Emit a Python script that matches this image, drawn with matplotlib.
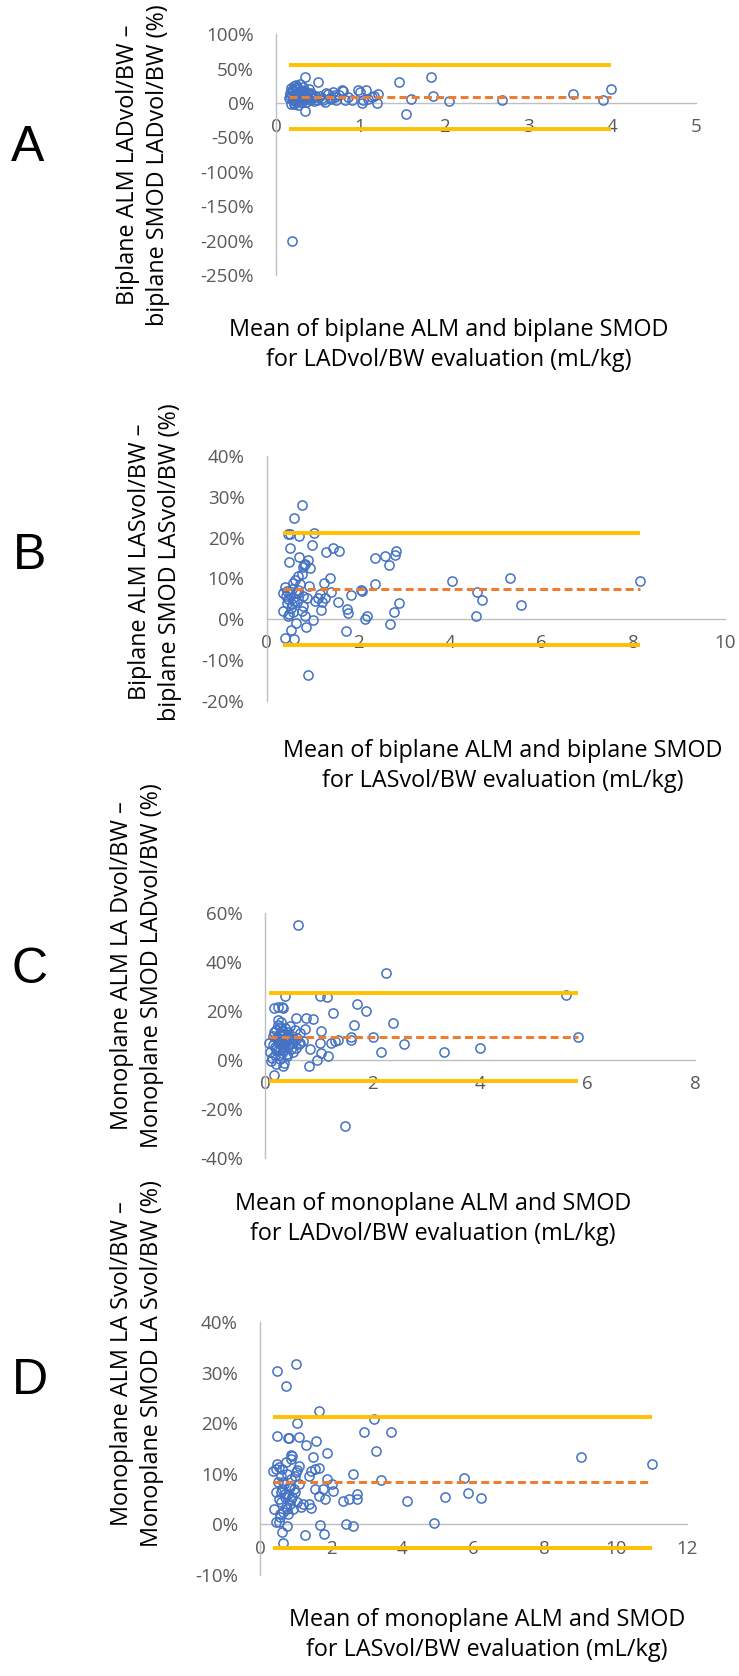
import matplotlib
matplotlib.use("Agg")
import matplotlib.pyplot as plt

plt.rcParams['font.family'] = ['Open Sans', 'DejaVu Sans']

W, H = 739, 1676

# ---------------- data ----------------
A_x = [0.19, 0.34, 0.34, 0.50, 1.46, 1.84, 1.87, 1.55, 1.61, 2.06,
       2.69, 3.53, 3.89, 3.99, 0.98, 1.07, 1.21, 1.02, 1.04, 1.20,
       1.14, 0.78, 0.80, 0.86, 0.82, 0.72, 0.68, 0.62, 0.56, 0.52,
       0.48, 0.64, 0.70, 0.90, 1.00, 1.10, 1.17, 0.16, 0.17, 0.18,
       0.18, 0.19, 0.20, 0.20, 0.21, 0.22, 0.22, 0.23, 0.24, 0.24,
       0.25, 0.26, 0.26, 0.27, 0.28, 0.28, 0.29, 0.30, 0.30, 0.31,
       0.32, 0.33, 0.34, 0.35, 0.36, 0.37, 0.38, 0.39, 0.40, 0.41,
       0.42, 0.44, 0.45, 0.47, 0.19, 0.21, 0.23, 0.25, 0.27, 0.29,
       0.31, 0.33, 0.35, 0.17, 0.20, 0.24, 0.28, 0.32, 0.36, 0.40,
       0.43, 0.46, 0.49, 0.55, 0.58, 0.60, 0.65, 0.70, 0.75, 0.22]
A_y = [-200, 37.8, -11.7, 30.6, 30.6, 37.8, 11.0, -15.5, 6.3, 3.0,
       4.9, 12.6, 4.9, 20.3, 18.4, 18.4, 13.6, 0.0, 3.9, 0.0,
       8.8, 19.4, 18.0, 8.8, 3.9, 3.9, 16.0, 13.6, 3.9, 11.0,
       8.8, 8.0, 12.0, 5.0, 16.0, 6.0, 10.0, 8, 15, -2,
       22, 12, 5, 18, 0, 10, 25, 3, 14, 20,
       7, -3, 16, 11, 28, 4, 9, 19, 13, 1,
       24, 6, 17, 10, 2, 15, 8, 21, 12, 5,
       14, 9, 3, 11, 19, -1, 6, 23, 13, 2,
       17, 8, 12, 10, 4, 26, 6, 15, 9, 13,
       7, 11, 5, 8, 2, 14, 6, 9, 12, 7]
A_loa = [55, 9, -37]   # upper, mean, lower (%)

B_x = [0.78, 0.59, 0.46, 0.50, 0.71, 1.04, 0.50, 0.98, 0.48, 0.71,
       0.90, 0.84, 0.81, 0.79, 0.94, 0.69, 0.76, 1.30, 1.45, 1.58,
       1.38, 1.26, 0.92, 1.17, 1.13, 1.28, 1.40, 1.06, 1.20, 1.19,
       1.55, 1.83, 1.76, 1.78, 1.73, 2.05, 2.07, 2.15, 2.20, 2.36,
       2.37, 2.59, 2.67, 2.83, 2.81, 2.89, 2.77, 2.69, 4.05, 4.59,
       4.71, 4.56, 5.31, 5.56, 8.14, 0.40, 0.59, 0.52, 0.63, 0.86,
       1.00, 0.91, 0.36, 0.47, 0.58, 0.76, 0.84, 0.79, 0.66, 0.55,
       0.44, 0.35, 0.40, 0.55, 0.69, 0.80, 0.89, 0.58, 0.47, 0.73,
       0.51, 0.62, 0.45, 0.68, 0.53, 0.42, 0.57, 0.64, 0.49, 0.60]
B_y = [28.1, 24.8, 21.0, 20.8, 20.4, 21.2, 17.5, 18.2, 14.0, 15.3,
       14.5, 13.6, 13.2, 12.7, 12.5, 10.6, 11.0, 16.4, 17.5, 16.8,
       10.0, 8.8, 8.2, 6.1, 5.3, 5.3, 6.7, 4.5, 4.1, 2.3,
       4.3, 5.9, 2.5, 1.5, -2.8, 7.2, 6.9, 0.0, 0.7, 8.6,
       15.0, 15.5, 13.4, 16.8, 15.7, 3.9, 1.8, -1.2, 9.4, 6.7,
       4.7, 0.7, 10.0, 3.6, 9.3, -4.7, -4.9, -2.6, -1.0, -2.0,
       -0.2, -13.6, 2.0, 0.8, 1.8, 2.0, 0.8, 3.3, 4.1, 3.7,
       3.9, 6.5, 7.9, 7.4, 6.5, 5.7, 5.3, 5.3, 4.9, 8.6,
       6.1, 9.5, 6.8, 7.2, 2.8, 5.6, 8.9, 6.3, 1.2, 4.4]
B_loa = [21.2, 7.35, -6.4]

C_x = [0.62, 2.25, 5.60, 5.82, 1.03, 1.16, 0.37, 1.72, 1.87, 1.27,
       0.17, 0.25, 0.31, 0.34, 1.66, 2.39, 0.58, 0.76, 0.90, 0.74,
       1.05, 2.00, 1.60, 1.60, 1.36, 1.31, 1.23, 1.02, 2.59, 2.16,
       3.33, 4.00, 1.18, 1.05, 0.96, 0.82, 0.84, 0.17, 1.49, 0.08,
       0.10, 0.12, 0.14, 0.15, 0.18, 0.20, 0.21, 0.22, 0.24, 0.25,
       0.26, 0.27, 0.28, 0.29, 0.30, 0.31, 0.32, 0.33, 0.34, 0.35,
       0.36, 0.37, 0.38, 0.40, 0.41, 0.42, 0.44, 0.45, 0.47, 0.48,
       0.50, 0.52, 0.55, 0.57, 0.60, 0.63, 0.66, 0.70, 0.24, 0.28,
       0.32, 0.36, 0.40, 0.19, 0.23, 0.27, 0.31, 0.35, 0.39, 0.43,
       0.46, 0.53, 0.65, 0.13, 0.16, 0.21, 0.26, 0.30, 0.34, 0.38]
C_y = [55.1, 35.5, 26.5, 9.5, 26.0, 25.6, 26.0, 23.1, 20.1, 19.3,
       21.1, 21.9, 21.9, 21.5, 14.4, 15.1, 17.3, 17.1, 16.6, 12.7,
       11.7, 9.5, 9.5, 8.2, 8.3, 7.8, 6.9, 7.2, 6.5, 3.4,
       3.4, 4.8, 1.8, 3.1, 0.1, -2.3, 4.5, -5.9, -26.9, 7.0,
       3.5, -0.5, 10.0, 6.0, 2.0, 12.5, -1.5, 8.5, 4.0, 14.5,
       9.0, 0.5, 11.0, 6.5, 15.5, 3.0, 8.0, 12.0, -2.5, 10.5,
       5.5, 13.0, 7.5, 9.5, 2.5, 11.5, 6.0, 8.5, 14.0, 4.5,
       10.0, 7.0, 12.5, 5.0, 9.0, 6.5, 11.0, 8.0, 16.5, 2.0,
       7.5, 4.0, 1.5, 5.5, 9.5, 13.5, 10.5, -1.0, 8.0, 6.0,
       9.0, 3.5, 7.0, 1.0, 11.5, 4.5, 7.0, 12.0, 5.0, 9.0]
C_loa = [27.6, 9.4, -8.7]

D_x = [0.49, 1.02, 0.73, 1.66, 3.21, 1.03, 2.93, 3.68, 0.47, 0.79,
       0.81, 1.11, 1.56, 1.30, 3.26, 1.89, 1.50, 0.88, 0.91, 0.86,
       0.72, 9.01, 11.02, 0.47, 0.53, 0.37, 0.44, 0.63, 1.11, 1.05,
       1.00, 1.66, 1.54, 1.42, 2.62, 1.38, 1.89, 3.41, 5.73, 2.03,
       2.06, 1.78, 1.54, 1.66, 1.82, 2.73, 2.73, 2.50, 2.34, 4.12,
       5.21, 5.84, 6.20, 1.38, 1.42, 4.89, 1.68, 2.41, 2.62, 1.26,
       1.80, 0.63, 0.66, 0.75, 0.44, 0.53, 0.40, 0.45, 0.50, 0.55,
       0.58, 0.60, 0.62, 0.65, 0.68, 0.70, 0.72, 0.75, 0.78, 0.80,
       0.83, 0.85, 0.88, 0.90, 0.93, 0.95, 0.98, 1.05, 1.10, 1.15,
       0.52, 0.57, 0.64, 0.70, 0.76, 0.82, 0.87, 0.97, 1.20, 0.60]
D_y = [30.3, 31.8, 27.3, 22.4, 20.9, 20.1, 18.2, 18.2, 17.6, 17.1,
       17.1, 17.4, 16.5, 15.7, 14.5, 14.1, 13.3, 13.8, 13.6, 12.9,
       12.4, 13.4, 11.9, 12.0, 11.4, 10.6, 11.0, 11.0, 11.6, 10.8,
       10.3, 11.1, 10.9, 10.6, 9.9, 9.5, 8.9, 8.8, 9.1, 8.0,
       6.6, 7.1, 7.0, 5.7, 5.0, 6.0, 5.0, 5.1, 4.7, 4.7,
       5.4, 6.3, 5.3, 4.0, 3.2, 0.2, -0.1, 0.1, -0.4, -2.1,
       -1.8, -1.4, -3.6, -0.3, 0.5, 0.4, 3.0, 6.5, 8.5, 2.0,
       9.5, 4.5, 7.0, 2.5, 8.0, 5.5, 3.5, 10.0, 6.0, 2.0,
       7.5, 4.0, 9.0, 5.5, 3.0, 7.0, 6.5, 4.5, 8.0, 3.5,
       5.0, 1.5, 8.5, 6.0, 3.0, 7.5, 5.0, 9.5, 4.0, 6.5]
D_loa = [21.3, 8.5, -4.6]

A_xticks = [0, 1, 2, 3, 4, 5]
B_xticks = [0, 2, 4, 6, 8, 10]
C_xticks = [0, 2, 4, 6, 8]
D_xticks = [0, 2, 4, 6, 8, 10, 12]
A_yticks = [100, 50, 0, -50, -100, -150, -200, -250]
B_yticks = [40, 30, 20, 10, 0, -10, -20]
C_yticks = [60, 40, 20, 0, -20, -40]
D_yticks = [40, 30, 20, 10, 0, -10]

letters = ["A", "B", "C", "D"]
ylabels = ["Biplane ALM LADvol/BW –\nbiplane SMOD LADvol/BW (%)",
           "Biplane ALM LASvol/BW –\nbiplane SMOD LASvol/BW (%)",
           "Monoplane ALM LA Dvol/BW –\nMonoplane SMOD LADvol/BW (%)",
           "Monoplane ALM LA Svol/BW –\nMonoplane SMOD LA Svol/BW (%)"]
xlabels = ["Mean of biplane ALM and biplane SMOD\nfor LADvol/BW evaluation (mL/kg)",
           "Mean of biplane ALM and biplane SMOD\nfor LASvol/BW evaluation (mL/kg)",
           "Mean of monoplane ALM and SMOD\nfor LADvol/BW evaluation (mL/kg)",
           "Mean of monoplane ALM and SMOD\nfor LASvol/BW evaluation (mL/kg)"]

# ---------------- layout (pixels) ----------------
panels = [
    dict(x=A_x, y=A_y, loa=A_loa, xt=A_xticks, yt=A_yticks,
         box=(276, 696, 34.3, 275), letter=(28, 148), ylab=(143, 165), xlab=(449, 345)),
    dict(x=B_x, y=B_y, loa=B_loa, xt=B_xticks, yt=B_yticks,
         box=(266.7, 724.7, 456, 700.8), letter=(30, 556), ylab=(155, 562), xlab=(503, 766)),
    dict(x=C_x, y=C_y, loa=C_loa, xt=C_xticks, yt=C_yticks,
         box=(265, 695, 913.3, 1158), letter=(30, 970), ylab=(137, 966), xlab=(433, 1219)),
    dict(x=D_x, y=D_y, loa=D_loa, xt=D_xticks, yt=D_yticks,
         box=(260, 687, 1322.3, 1575), letter=(30, 1381), ylab=(137, 1364), xlab=(487, 1635)),
]

BLUE = '#4472C4'
GOLD = '#FFC000'
ORANGE = '#ED7D31'
AXC = '#BFBFBF'
TXT = '#595959'

fig = plt.figure(figsize=(W / 100, H / 100), dpi=100)
fig.patch.set_facecolor('white')

for i, p in enumerate(panels):
    x0, x1, yt, yb = p['box']
    ax = fig.add_axes([x0 / W, 1 - yb / H, (x1 - x0) / W, (yb - yt) / H])
    ax.set_facecolor('none')
    ax.set_xlim(p['xt'][0], p['xt'][-1])
    ax.set_ylim(min(p['yt']), max(p['yt']))
    ax.plot(p['x'], p['y'], linestyle='none', marker='o', ms=6.6,
            mfc='none', mec=BLUE, mew=1.1, zorder=3, clip_on=False)
    xmin, xmax = min(p['x']), max(p['x'])
    up, mean, lo = p['loa']
    ax.hlines([up, lo], xmin, xmax, colors=GOLD, lw=2.8, zorder=4)
    ax.hlines([mean], xmin, xmax, colors=ORANGE, lw=2.2,
              linestyles=[(0, (2.6, 1.4))], zorder=4)
    for s in ['top', 'right']:
        ax.spines[s].set_visible(False)
    ax.spines['left'].set_color(AXC)
    ax.spines['left'].set_linewidth(1.0)
    ax.spines['bottom'].set_position(('data', 0))
    ax.spines['bottom'].set_color(AXC)
    ax.spines['bottom'].set_linewidth(1.0)
    ax.set_xticks(p['xt'])
    ax.set_xticklabels([str(v) for v in p['xt']])
    ax.set_yticks(p['yt'])
    ax.set_yticklabels([f"{v}%" for v in p['yt']])
    ax.tick_params(axis='x', length=0, pad=11, labelsize=13.5, labelcolor=TXT)
    ax.tick_params(axis='y', length=0, pad=16, labelsize=13.5, labelcolor=TXT)

    lx, ly = p['letter']
    fig.text(lx / W, 1 - ly / H, letters[i], fontsize=36, ha='center', va='center',
             color='black', family=['Liberation Sans', 'DejaVu Sans'])
    yx, yy = p['ylab']
    fig.text(yx / W, 1 - yy / H, ylabels[i], rotation=90, fontsize=16.8,
             ha='center', va='center', multialignment='center', linespacing=1.34,
             color='black')
    xx, xy = p['xlab']
    fig.text(xx / W, 1 - xy / H, xlabels[i], fontsize=16.8, ha='center', va='center',
             multialignment='center', linespacing=1.34, color='black')

fig.savefig('out.png', dpi=100, facecolor='white')
